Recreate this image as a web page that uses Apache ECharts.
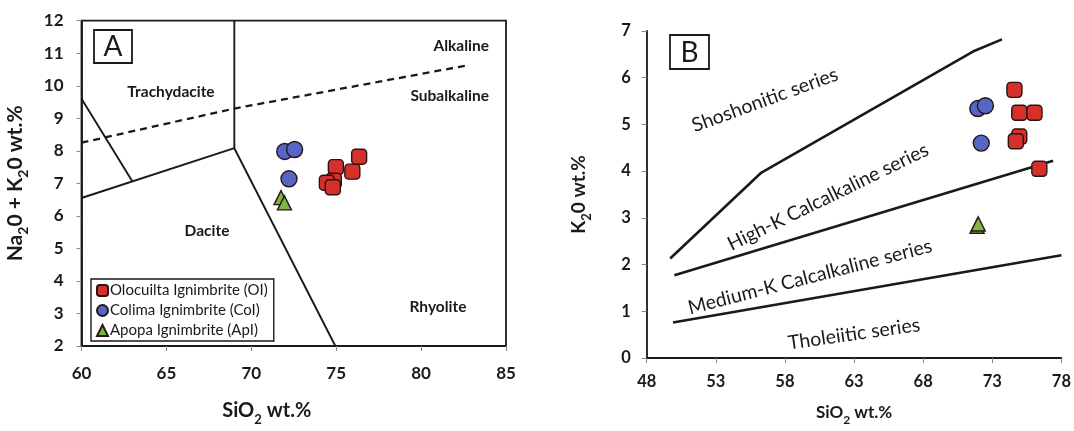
<!DOCTYPE html>
<html>
<head>
<meta charset="utf-8">
<script src="https://cdn.jsdelivr.net/npm/echarts@6/dist/echarts.min.js"></script>
<style>
  html, body { margin: 0; padding: 0; background: #fff; }
  #chart { width: 1074px; height: 431px; }
</style>
</head>
<body>
<div id="chart"></div>
<script>
// panel A (TAS) samples: [SiO2, Na2O + K2O]
const oiTas = [[74.98, 7.5], [74.86, 7.08], [74.45, 7.02], [74.8, 6.88], [75.95, 7.36], [76.35, 7.82]];
const coiTas = [[71.97, 7.98], [72.55, 8.04], [72.22, 7.14]];
const apiTas = [[71.75, 6.56], [71.95, 6.4]];

// panel A field boundaries
const tasBound1 = [[69, 12], [69, 8.08], [74.95, 2]];
const tasBound2 = [[60, 6.55], [69, 8.08]];
const tasBound3 = [[60, 9.6], [63, 7.06]];
const alkBound = [[60, 8.25], [69, 9.3], [82.85, 10.64]];

// panel B (K2O vs SiO2) samples
const oiK = [[74.6, 5.74], [74.95, 5.25], [76.05, 5.25], [74.95, 4.74], [74.7, 4.64], [76.4, 4.05]];
const coiK = [[71.95, 5.34], [72.5, 5.4], [72.2, 4.6]];
const apiK = [[71.9, 2.82], [71.98, 2.87]];

// panel B series boundaries
const shoBound = [[49.7, 2.13], [56.3, 3.97], [71.6, 6.56], [73.7, 6.82]];
const hkBound = [[50.0, 1.77], [77.4, 4.22]];
const mkBound = [[49.9, 0.76], [78, 2.2]];

const FONT = 'Lato, "Open Sans", sans-serif';
const INK = '#1a1a1a';

const chart = echarts.init(document.getElementById('chart'));

function bound(data, xi, width, dashed) {
  return {
    type: 'line', data: data, xAxisIndex: xi, yAxisIndex: xi,
    symbol: 'none', silent: true, z: 1,
    lineStyle: { color: INK, width: width, type: dashed ? [7, 5] : 'solid' }
  };
}

function pts(name, data, xi, symbol, color, size) {
  return {
    type: 'scatter', name: name, data: data, xAxisIndex: xi, yAxisIndex: xi,
    symbol: symbol, symbolSize: size, z: 5,
    itemStyle: { color: color, borderColor: '#2a1414', borderWidth: 1.4, opacity: 1 }
  };
}

function label(text, x, y, size, weight, rot, align) {
  return {
    type: 'text', x: x, y: y, rotation: (rot || 0) * Math.PI / 180, z: 10,
    style: {
      text: text, x: 0, y: 0, align: align || 'center', verticalAlign: 'middle',
      font: (weight || 'normal') + ' ' + size + 'px ' + FONT, fill: INK
    }
  };
}

const subRich = (fs) => ({
  s: { fontSize: fs, fontWeight: 'bold', fontFamily: FONT, color: INK, verticalAlign: 'bottom', padding: [0, 0, -5, 0] }
});

const tickCommon = {
  axisLine: { lineStyle: { color: INK, width: 1.8 } },
  axisTick: { length: 5, lineStyle: { color: '#888' } },
  splitLine: { show: false }
};

chart.setOption({
  animation: false,
  backgroundColor: '#fff',
  grid: [
    { left: 81.5, top: 20.7, width: 424.5, height: 334.3, show: true, borderColor: INK, borderWidth: 1.8 },
    { left: 646.7, top: 31, width: 416, height: 332.3 }
  ],
  legend: {
    data: ['Olocuilta Ignimbrite (OI)', 'Colima Ignimbrite (CoI)', 'Apopa Ignimbrite (ApI)'],
    orient: 'vertical', left: 91, top: 279,
    borderColor: INK, borderWidth: 1.4, padding: [4, 6, 3, 5],
    itemGap: 5, itemWidth: 11, itemHeight: 11,
    textStyle: { fontFamily: FONT, fontSize: 15, color: INK, padding: [0, 0, 0, -3] }
  },
  xAxis: [
    Object.assign({
      type: 'value', gridIndex: 0, min: 60, max: 85, interval: 5,
      name: 'SiO{s|2} wt.%', nameLocation: 'middle', nameGap: 55,
      nameTextStyle: { fontFamily: FONT, fontSize: 20, fontWeight: 'bold', color: INK, rich: subRich(13), padding: [0, 54, 0, 0] },
      axisLabel: { margin: 19, fontFamily: FONT, fontSize: 17, fontWeight: 'bold', color: INK }
    }, tickCommon),
    Object.assign({
      type: 'value', gridIndex: 1, min: 48, max: 78, interval: 5,
      name: 'SiO{s|2} wt.%', nameLocation: 'middle', nameGap: 46,
      nameTextStyle: { fontFamily: FONT, fontSize: 17, fontWeight: 'bold', color: INK, rich: subRich(12) },
      axisLabel: { margin: 15, fontFamily: FONT, fontSize: 16.5, fontWeight: 'bold', color: INK }
    }, tickCommon)
  ],
  yAxis: [
    Object.assign({
      type: 'value', gridIndex: 0, min: 2, max: 12, interval: 1,
      name: 'Na{s|2}0 + K{s|2}0 wt.%', nameLocation: 'middle', nameGap: 56,
      nameTextStyle: { fontFamily: FONT, fontSize: 21, fontWeight: 'bold', color: INK, rich: subRich(14) },
      axisLabel: { margin: 18, fontFamily: FONT, fontSize: 17, fontWeight: 'bold', color: INK }
    }, tickCommon),
    Object.assign({
      type: 'value', gridIndex: 1, min: 0, max: 7, interval: 1,
      name: 'K{s|2}0 wt.%', nameLocation: 'middle', nameGap: 58,
      nameTextStyle: { fontFamily: FONT, fontSize: 19, fontWeight: 'bold', color: INK, rich: subRich(13) },
      axisLabel: { margin: 16, fontFamily: FONT, fontSize: 16.5, fontWeight: 'bold', color: INK }
    }, tickCommon)
  ],
  series: [
    bound(tasBound1, 0, 1.9), bound(tasBound2, 0, 1.9), bound(tasBound3, 0, 1.9), bound(alkBound, 0, 2.3, true),
    pts('Olocuilta Ignimbrite (OI)', oiTas, 0, 'roundRect', '#d6302a', 15),
    pts('Colima Ignimbrite (CoI)', coiTas, 0, 'circle', '#5566c6', 16),
    pts('Apopa Ignimbrite (ApI)', apiTas, 0, 'triangle', '#7ab846', 14),
    bound(shoBound, 1, 2.6), bound(hkBound, 1, 2.6), bound(mkBound, 1, 2.6),
    pts('Olocuilta Ignimbrite (OI)', oiK, 1, 'roundRect', '#d6302a', 15),
    pts('Colima Ignimbrite (CoI)', coiK, 1, 'circle', '#5566c6', 16),
    pts('Apopa Ignimbrite (ApI)', apiK, 1, 'triangle', '#7ab846', 14)
  ],
  graphic: [
    { type: 'rect', shape: { x: 94, y: 30, width: 38, height: 33 }, style: { fill: '#fff', stroke: INK, lineWidth: 1.8 }, z: 10 },
    label('A', 113, 47, 28, 'normal'),
    { type: 'rect', shape: { x: 670, y: 35, width: 39, height: 34 }, style: { fill: '#fff', stroke: INK, lineWidth: 1.8 }, z: 10 },
    label('B', 689.5, 52.5, 28, 'normal'),
    label('Trachydacite', 171, 92, 15.5, 'bold'),
    label('Dacite', 207, 231, 15.5, 'bold'),
    label('Rhyolite', 438, 307, 15.5, 'bold'),
    label('Alkaline', 489, 46, 15.5, 'bold', 0, 'right'),
    label('Subalkaline', 489, 96, 15.5, 'bold', 0, 'right'),
    label('Shoshonitic series', 765, 100, 19.5, 'normal', 20),
    label('High-K Calcalkaline series', 828, 197, 19.5, 'normal', 26),
    label('Medium-K Calcalkaline series', 810, 277, 19.5, 'normal', 14.5),
    label('Tholeiitic series', 854, 334, 19.5, 'normal', 8)
  ]
});
window.addEventListener('resize', () => chart.resize());
</script>
</body>
</html>
